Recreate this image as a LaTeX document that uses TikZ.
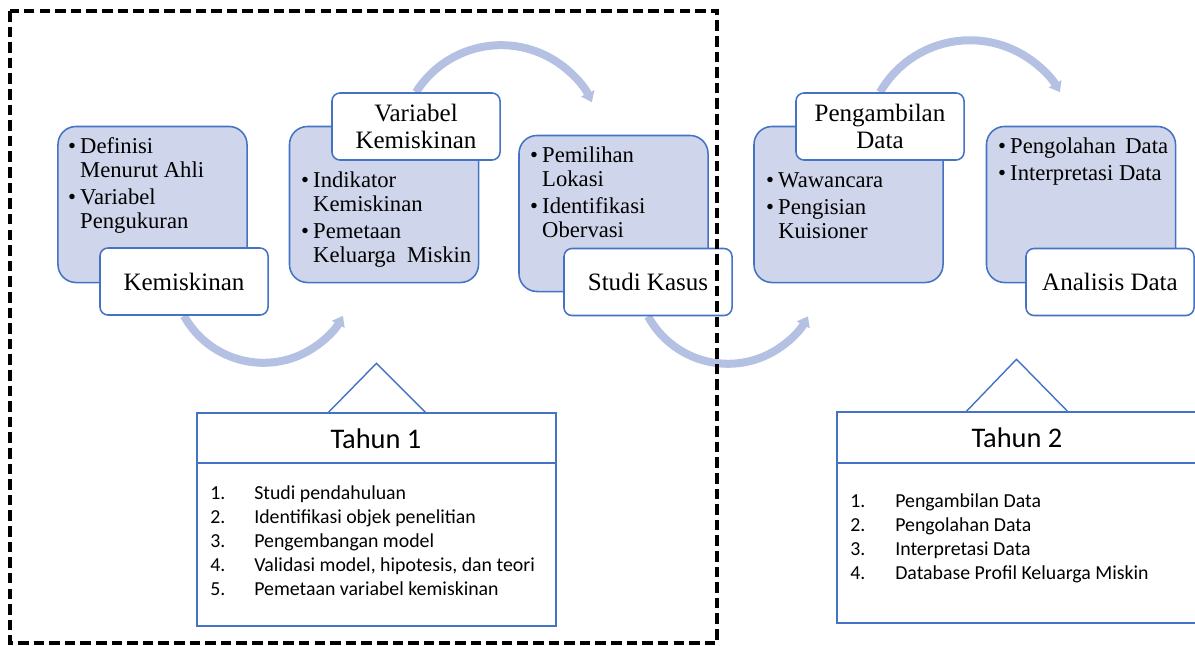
\documentclass[tikz,border=0pt]{standalone}
\usepackage{fontspec}
\setmainfont{Liberation Serif}
\newfontfamily\calibrifont{Carlito}
\usepackage{tikz}
\usetikzlibrary{arrows.meta,backgrounds}
\definecolor{boxfill}{RGB}{207,213,234}
\definecolor{boxline}{RGB}{68,114,196}
\definecolor{arccol}{RGB}{180,193,226}
\newcommand{\blt}{\makebox[9.5pt][l]{\hspace{0.8pt}\textbullet}}
\newcommand{\bltgap}{\hspace*{9.5pt}}

\begin{document}
\begin{tikzpicture}[x=0.025cm, y=0.025cm,
    panel/.style={draw=boxline, fill=boxfill, line width=1.1pt, rounded corners=0.45cm,
        minimum width=4.725cm, minimum height=3.9cm, inner sep=0},
    headbox/.style={draw=boxline, fill=white, line width=1.1pt, rounded corners=0.2cm,
        minimum width=4.2cm, minimum height=1.675cm, inner sep=0, align=center,
        font=\fontsize{17.8}{19.2}\selectfont},
    items/.style={anchor=north west, inner sep=0, font=\fontsize{16.1}{17.1}\selectfont},
    flow/.style={draw=arccol, line width=5.7pt, -{Triangle[width=10pt, length=7pt]}},
    yearbox/.style={draw=boxline, fill=white, line width=1pt, inner sep=0},
    yeartitle/.style={inner sep=0, font=\calibrifont\fontsize{20.2}{24}\selectfont},
    yearlist/.style={anchor=north west, inner sep=0, font=\calibrifont\fontsize{14.1}{17.1}\selectfont}]

    \useasboundingbox (0,0) rectangle (1195,-645);
    \clip (0,0) rectangle (1195,-645);

    % tahap penelitian
    \draw
        (152.5, -204.5) node[panel](kem){}
        (384,   -204.5) node[panel](var){}
        (613.5, -213.5) node[panel](studi){}
        (848.5, -204.5) node[panel](ambil){}
        (1081,  -204.5) node[panel](olah){}
    ;
    \node[items] (kemtxt) at (66.6,-136.2) {\begin{tabular}{@{}l@{}}
        \blt Definisi\\ \bltgap Menurut Ahli\\[2.5pt] \blt Variabel\\ \bltgap Pengukuran\end{tabular}};
    \node[items] (vartxt) at (299.6,-170.2) {\begin{tabular}{@{}l@{}}
        \blt Indikator\\ \bltgap Kemiskinan\\[2.5pt] \blt Pemetaan\\ \bltgap Keluarga\ \ Miskin\end{tabular}};
    \node[items] (studitxt) at (528.6,-145.2) {\begin{tabular}{@{}l@{}}
        \blt Pemilihan\\ \bltgap Lokasi\\[2.5pt] \blt Identifikasi\\ \bltgap Obervasi\end{tabular}};
    \node[items] (ambiltxt) at (764.6,-170.2) {\begin{tabular}{@{}l@{}}
        \blt Wawancara\\[2.5pt] \blt Pengisian\\ \bltgap Kuisioner\end{tabular}};
    \node[items] (olahtxt) at (996.6,-136.2) {\begin{tabular}{@{}l@{}}
        \blt Pengolahan\hspace{0.42em}Data\\[2.5pt] \blt Interpretasi Data\end{tabular}};

    \draw
        (184,  -281.5) node[headbox](LA){Kemiskinan}
        (416,  -126.5) node[headbox](LB){Variabel\\Kemiskinan}
        (648,  -282)   node[headbox](LC){Studi Kasus}
        (880,  -126.5) node[headbox](LD){Pengambilan\\Data}
        (1110, -282)   node[headbox](LE){Analisis Data}
    ;

    \begin{scope}[on background layer]
        \draw[flow] (LA.south) arc[start angle=208.8, end angle=331.2, radius=90.7];
        \draw[flow] (LB.north) arc[start angle=147.8, end angle=25.7, radius=100.7];
        \draw[flow] (LC.south) arc[start angle=208.6, end angle=331.4, radius=91.1];
        \draw[flow] (LD.north) arc[start angle=150, end angle=30, radius=103.9];
    \end{scope}

    % tahun 1
    \node[yearbox, minimum width=8.975cm, minimum height=5.325cm] (T1) at (376.5,-519.5) {};
    \draw[boxline, line width=1pt] (T1.west |- 0,-463) -- (T1.east |- 0,-463);
    \draw[boxline, line width=1pt] ([xshift=-1.2cm]T1.north) -- ++(48,49) -- ++(49,-49);
    \node[yeartitle] (Y1) at (376,-439) {Tahun 1};
    \node[yearlist] (list1) at (210,-482.2) {\begin{tabular}{@{}p{31.3pt}@{}l@{}}
        1. & Studi pendahuluan\\
        2. & Identifikasi objek penelitian\\
        3. & Pengembangan model\\
        4. & Validasi model, hipotesis, dan teori\\
        5. & Pemetaan variabel kemiskinan\end{tabular}};

    % tahun 2
    \node[yearbox, minimum width=9.075cm, minimum height=5.275cm] (T2) at (1018.5,-517.5) {};
    \draw[boxline, line width=1pt] (T2.west |- 0,-463) -- (T2.east |- 0,-463);
    \draw[boxline, line width=1pt] ([xshift=-1.3cm]T2.north) -- ++(50,52) -- ++(51,-52);
    \node[yeartitle] (Y2) at (1017,-438) {Tahun 2};
    \node[yearlist] (list2) at (850,-490.2) {\begin{tabular}{@{}p{32pt}@{}l@{}}
        1. & Pengambilan Data\\
        2. & Pengolahan Data\\
        3. & Interpretasi Data\\
        4. & Database Profil Keluarga Miskin\end{tabular}};

    \draw[line width=2.8pt, dash pattern=on 7.5pt off 3.6pt] (10,-11) rectangle (717,-643);
\end{tikzpicture}
\end{document}
